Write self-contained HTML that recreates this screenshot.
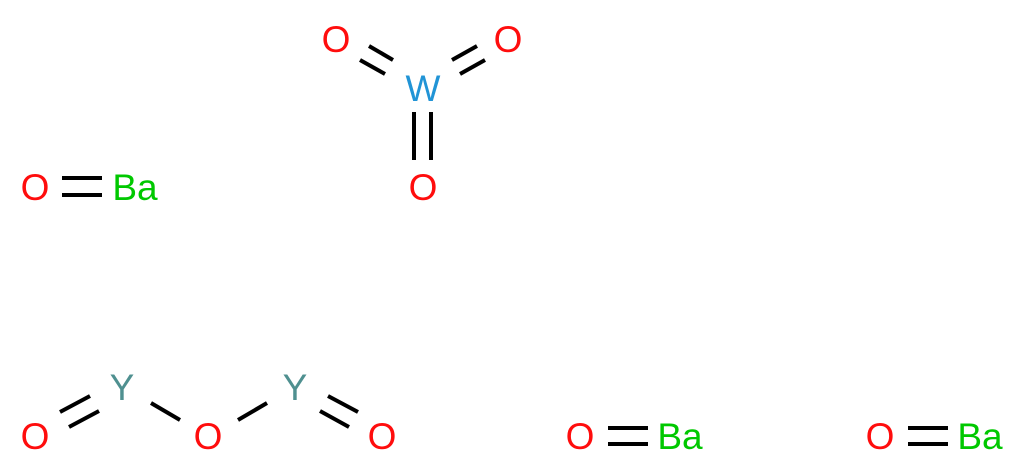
<!DOCTYPE html>
<html><head><meta charset="utf-8"><style>html,body{margin:0;padding:0;background:#fff}svg{display:block}</style></head>
<body>
<svg width="1026" height="473" viewBox="0 0 1026 473" xmlns="http://www.w3.org/2000/svg">
<g stroke="#000" stroke-width="4" fill="none">
<line x1="360" y1="60" x2="385" y2="74"/><line x1="369" y1="46" x2="393" y2="60"/>
<line x1="452" y1="60" x2="477" y2="46"/><line x1="460" y1="74" x2="485" y2="60"/>
<line x1="414" y1="112" x2="414" y2="160"/><line x1="431" y1="112" x2="431" y2="160"/>
<line x1="62" y1="178" x2="102" y2="178"/><line x1="62" y1="195" x2="102" y2="195"/>
<line x1="60" y1="412" x2="90" y2="396"/><line x1="69" y1="427" x2="99" y2="411"/>
<line x1="151" y1="403" x2="180" y2="420"/><line x1="238" y1="420" x2="267" y2="403"/>
<line x1="328" y1="396" x2="358" y2="412"/><line x1="320" y1="411" x2="349" y2="427"/>
<line x1="608" y1="428" x2="648" y2="428"/><line x1="608" y1="444" x2="648" y2="444"/>
<line x1="908" y1="428" x2="948" y2="428"/><line x1="908" y1="444" x2="948" y2="444"/>
</g>
<g font-family="Liberation Sans, sans-serif" font-size="37" text-anchor="middle">
<text x="336" y="52" fill="#ff0d0d">O</text>
<text x="508" y="52" fill="#ff0d0d">O</text>
<text x="423" y="101" fill="#2194d6">W</text>
<text x="423" y="200" fill="#ff0d0d">O</text>
<text x="35" y="200" fill="#ff0d0d">O</text>
<text x="135" y="200" fill="#00c800">Ba</text>
<text x="122" y="400" fill="#4f9090">Y</text>
<text x="295" y="400" fill="#4f9090">Y</text>
<text x="35" y="449" fill="#ff0d0d">O</text>
<text x="208" y="449" fill="#ff0d0d">O</text>
<text x="382" y="449" fill="#ff0d0d">O</text>
<text x="580" y="449" fill="#ff0d0d">O</text>
<text x="680" y="449" fill="#00c800">Ba</text>
<text x="880" y="449" fill="#ff0d0d">O</text>
<text x="980" y="449" fill="#00c800">Ba</text>
</g>
</svg>
</body></html>
